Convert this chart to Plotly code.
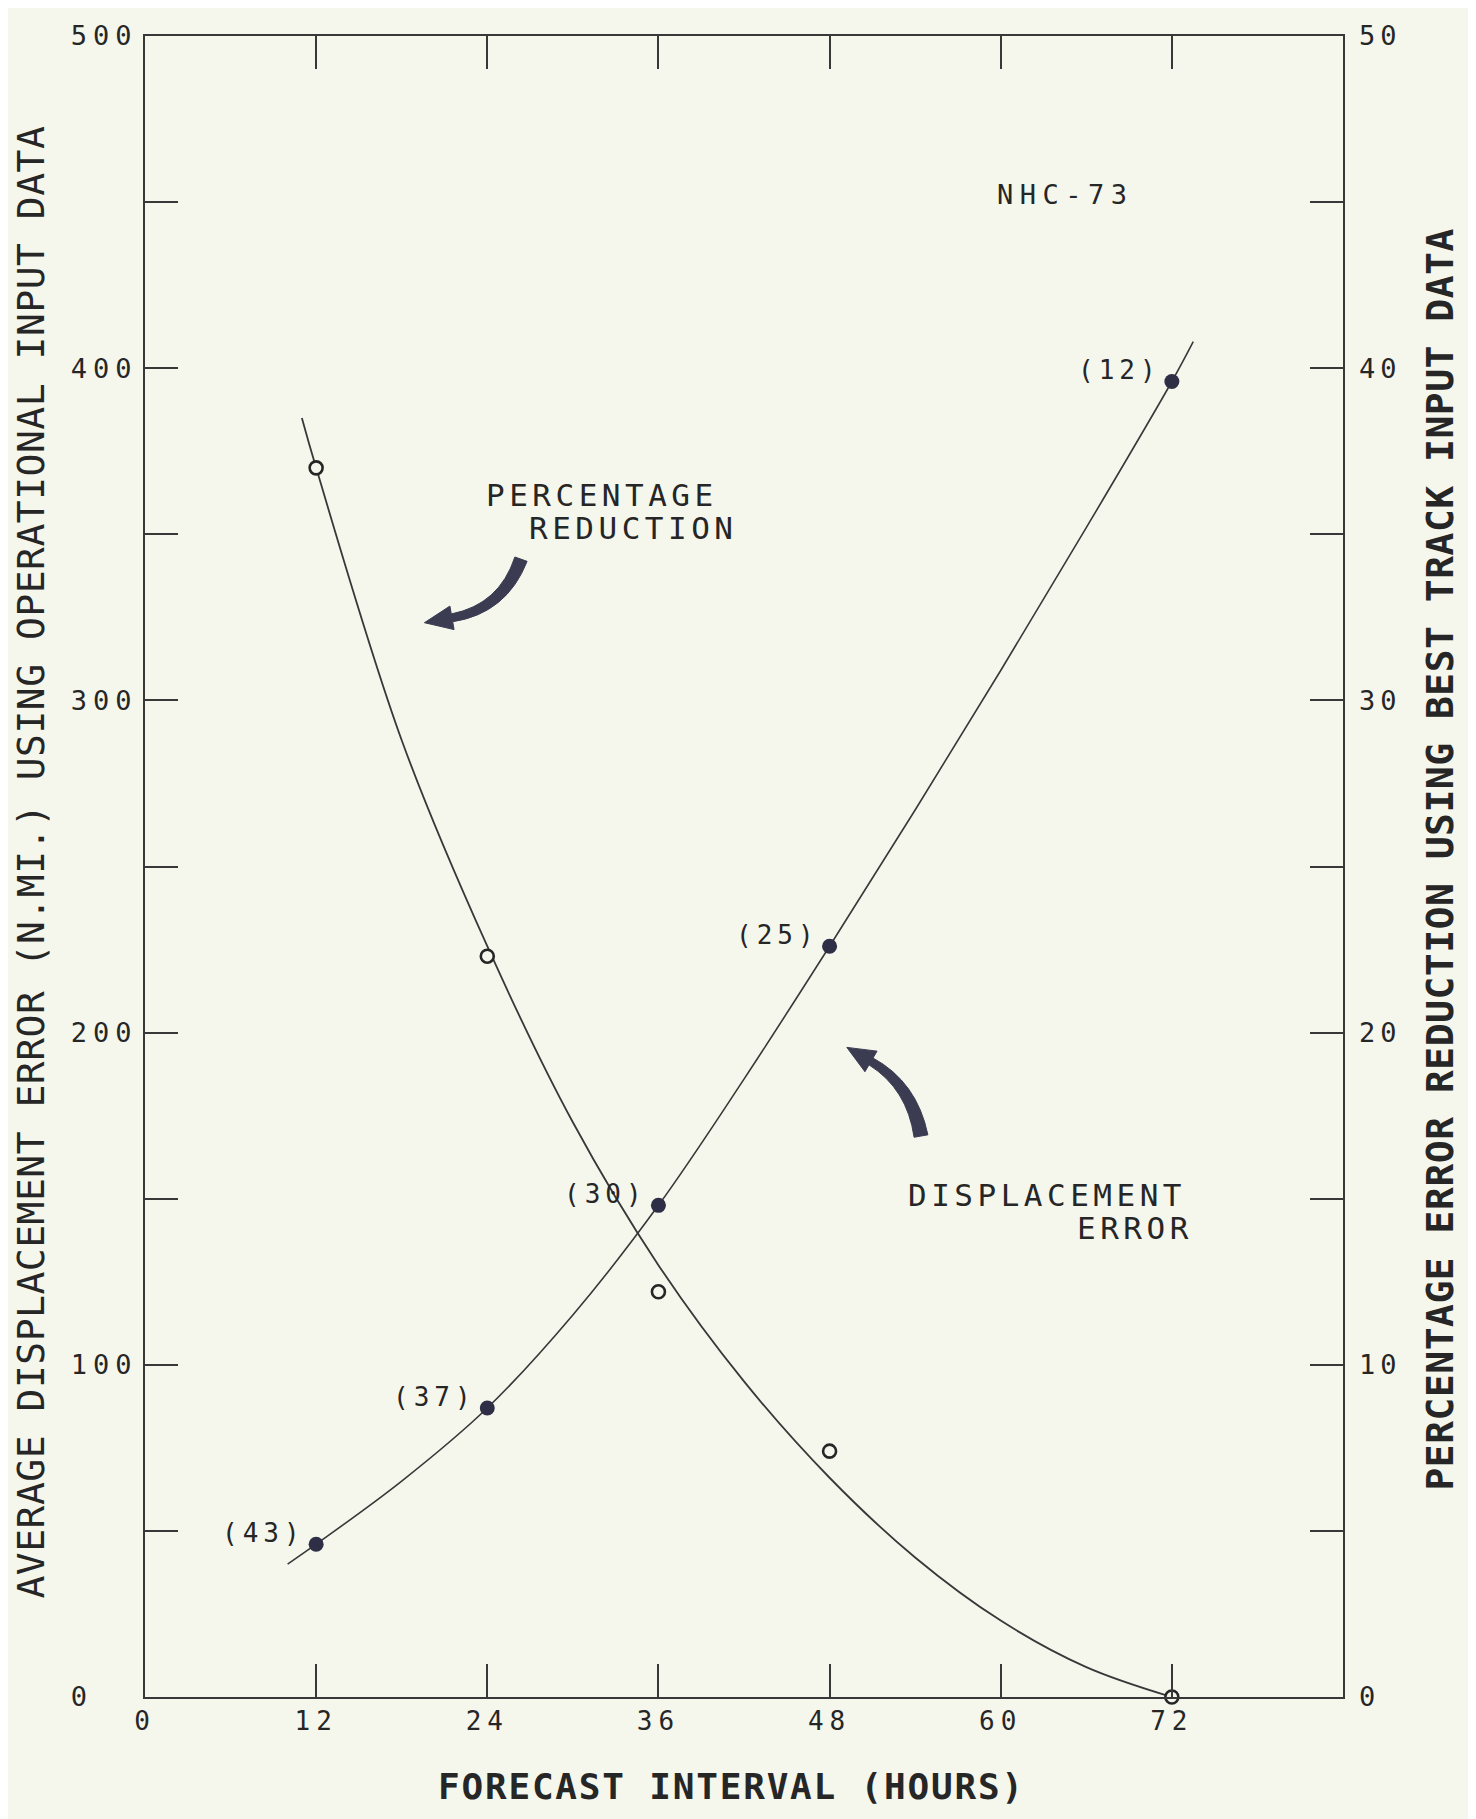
import math
import plotly.graph_objects as go

# ---------------- data ----------------
hours = [12, 24, 36, 48, 72]
disp_error = [46, 87, 148, 226, 396]                 # n.mi., left axis
sample_size = ["(43)", "(37)", "(30)", "(25)", "(12)"]
pct_reduction = [37.0, 22.3, 12.2, 7.4, 0.0]         # %, right axis

# fitted curves as drawn on the figure
disp_curve_x = [10, 12, 18, 24, 30, 36, 42, 48, 54, 60, 66, 72, 73.5]
disp_curve_y = [40, 46, 65, 87, 115, 148, 186, 226, 267, 309, 352, 396, 408]
pct_curve_x = [11, 12, 18, 24, 30, 36, 42, 48, 54, 60, 66, 72]
pct_curve_y = [38.5, 37.0, 28.8, 22.6, 17.3, 13.0, 9.5, 6.6, 4.2, 2.3, 0.9, 0.0]

x_ticks = [0, 12, 24, 36, 48, 60, 72]
left_ticks = list(range(0, 501, 50))
right_ticks = list(range(0, 51, 5))

# ---------------- styling ----------------
OFF = 8                      # default body margin of the html page
W, H = 1476 - OFF, 1819 - OFF
L, R, T, B = 145, 1343, 27, 1697   # plot area in screen pixels
BG = "#f5f7ec"
INK = "#262626"
LINE = "#383838"
DOT = "#2e2e46"
FONT = "DejaVu Sans Mono"


def sp(t, ls):
    return f'<span style="letter-spacing:{ls}px">{t}</span>' if t else ""


def pp(x, y):
    return (x - L) / (R - L), (B - y) / (B - T)


left_text = []
for v in left_ticks:
    if v == 0:
        left_text.append(sp("0\u00a0\u00a0", 6))
    elif v % 100 == 0:
        left_text.append(sp(str(v), 6))
    else:
        left_text.append("")
right_text = [sp(str(v), 5) if v % 10 == 0 else "" for v in right_ticks]
x_text = [sp(str(v), 6) for v in x_ticks]

fig = go.Figure()

fig.add_trace(go.Scatter(x=disp_curve_x, y=disp_curve_y, mode="lines",
                         line=dict(color=LINE, width=1.6, shape="spline", smoothing=1.0),
                         hoverinfo="skip", showlegend=False))
fig.add_trace(go.Scatter(x=hours, y=disp_error, mode="markers",
                         marker=dict(color=DOT, size=15, symbol="circle"),
                         cliponaxis=False, showlegend=False))
fig.add_trace(go.Scatter(x=pct_curve_x, y=pct_curve_y, mode="lines", yaxis="y2",
                         line=dict(color=LINE, width=1.8, shape="spline", smoothing=1.0),
                         hoverinfo="skip", showlegend=False, cliponaxis=False))
fig.add_trace(go.Scatter(x=hours, y=pct_reduction, mode="markers", yaxis="y2",
                         marker=dict(color=BG, size=13, symbol="circle",
                                     line=dict(color=INK, width=2.6)),
                         cliponaxis=False, showlegend=False))

annotations = []
# sample-size labels next to filled points
for hx, hy, lab in zip(hours, disp_error, sample_size):
    annotations.append(dict(x=hx, y=hy, xref="x", yref="y", text=sp(lab, 5),
                            showarrow=False, xanchor="right", yanchor="middle",
                            xshift=-9, yshift=11,
                            font=dict(family=FONT, size=26, color=INK)))


def ann(px, py, text, size, ls, angle=0, bold=False, anchor="center"):
    x, y = pp(px, py)
    t = sp(text, ls)
    if bold:
        t = "<b>" + t + "</b>"
    annotations.append(dict(x=x, y=y, xref="paper", yref="paper", text=t,
                            showarrow=False, xanchor=anchor, yanchor="middle",
                            textangle=angle,
                            font=dict(family=FONT, size=size, color=INK)))


ann(1065, 186, "NHC-73", 27, 6.5)
ann(602, 488, "PERCENTAGE", 31, 4.5)
ann(633, 522, "REDUCTION", 31, 4.5)
ann(1047, 1192, "DISPLACEMENT", 31, 4.5)
ann(1135, 1225, "ERROR", 31, 4.5)
ann(31, 858, "AVERAGE DISPLACEMENT ERROR (N.MI.) USING OPERATIONAL INPUT DATA", 38, 0.5, angle=-90)
ann(1440, 855, "PERCENTAGE ERROR REDUCTION USING BEST TRACK INPUT DATA", 38, 0.5, angle=-90, bold=True)
ann(731, 1787, "FORECAST INTERVAL (HOURS)", 36, 1.8, bold=True)


def curved_arrow(S, C, E, w0, w1, head_len, head_w):
    def norm(v):
        l = math.hypot(*v)
        return (v[0] / l, v[1] / l)
    ts = norm((C[0] - S[0], C[1] - S[1]))
    te = norm((E[0] - C[0], E[1] - C[1]))
    ns = (-ts[1], ts[0])
    ne = (-te[1], te[0])
    nc = norm((ns[0] + ne[0], ns[1] + ne[1]))
    wc = (w0 + w1) / 2 * 1.1

    def off(P, n, w):
        return (P[0] + n[0] * w, P[1] + n[1] * w)
    a0, a1, a2 = off(S, ns, w0), off(C, nc, wc), off(E, ne, w1)
    b0, b1, b2 = off(S, ns, -w0), off(C, nc, -wc), off(E, ne, -w1)
    tip = (E[0] + te[0] * head_len, E[1] + te[1] * head_len)
    h1, h2 = off(E, ne, head_w), off(E, ne, -head_w)

    def f(P):
        x, y = pp(*P)
        return f"{x:.5f},{y:.5f}"
    return (f"M {f(a0)} Q {f(a1)} {f(a2)} L {f(h1)} L {f(tip)} L {f(h2)} "
            f"L {f(b2)} Q {f(b1)} {f(b0)} Z")


shapes = [
    dict(type="path", xref="paper", yref="paper",
         path=curved_arrow((521, 553), (503, 603), (452, 612), 6.5, 4, 28, 12),
         fillcolor="#3b3b52", line=dict(color="#3b3b52", width=1)),
    dict(type="path", xref="paper", yref="paper",
         path=curved_arrow((921, 1133), (912, 1082), (871, 1058), 7, 4, 28, 12),
         fillcolor="#3b3b52", line=dict(color="#3b3b52", width=1)),
]

axis_common = dict(showgrid=False, zeroline=False, ticks="inside", ticklen=33,
                   tickwidth=1.6, tickcolor=LINE, showline=True, linewidth=2,
                   linecolor=LINE, mirror="ticks")

fig.update_layout(
    width=W, height=H, autosize=False,
    margin=dict(l=L - OFF, r=(W + OFF) - R, t=T - OFF, b=(H + OFF) - B),
    paper_bgcolor=BG, plot_bgcolor=BG,
    font=dict(family=FONT, color=INK),
    xaxis=dict(range=[0, 84], tickvals=x_ticks, ticktext=x_text,
               tickfont=dict(family=FONT, size=26, color=INK), **axis_common),
    yaxis=dict(range=[0, 500], tickvals=left_ticks, ticktext=left_text,
               tickfont=dict(family=FONT, size=27, color=INK), **axis_common),
    yaxis2=dict(range=[0, 50], overlaying="y", side="right", tickvals=right_ticks,
                ticktext=right_text, ticks="", showline=False, showgrid=False,
                zeroline=False, ticklabelstandoff=15,
                tickfont=dict(family=FONT, size=27, color=INK)),
    annotations=annotations,
    shapes=shapes,
    showlegend=False,
)

fig.write_html("out.html")
